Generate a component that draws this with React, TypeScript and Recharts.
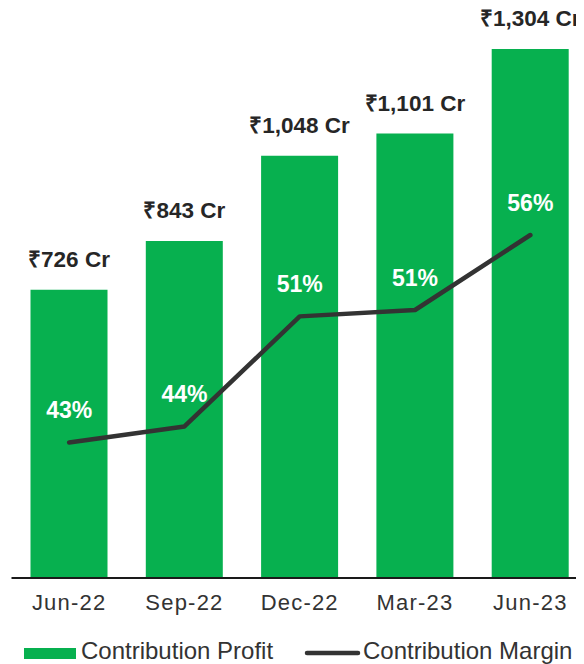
import React from 'react';
import { ComposedChart, Bar, Line, XAxis, YAxis, Legend, LabelList } from 'recharts';

const categories = ['Jun-22', 'Sep-22', 'Dec-22', 'Mar-23', 'Jun-23'];
const contributionProfit = [726, 843, 1048, 1101, 1304];
const contributionMargin = [43.0, 44.0, 50.9, 51.3, 56.0];

const data = categories.map((name, i) => ({
  name,
  profit: contributionProfit[i],
  margin: contributionMargin[i],
}));

const FONT = '"Liberation Sans", Arial, sans-serif';
const GREEN = '#07b04f';
const DARK = '#333333';

const fmtCr = (v: any) => {
  const s = String(v).replace(/\B(?=(\d{3})+(?!\d))/g, ',');
  return `₹${s} Cr`;
};

const PctLabel = (props: any) => {
  const { x, y, value } = props;
  return (
    <text
      x={x}
      y={y - 24}
      fill="#ffffff"
      fontSize={23}
      fontWeight="bold"
      fontFamily={FONT}
      textAnchor="middle"
    >
      {Math.round(Number(value))}%
    </text>
  );
};

const LegendContent = (props: any) => {
  const payload = props.payload || [];
  const barItem = payload.find((p: any) => p.dataKey === 'profit');
  const lineItem = payload.find((p: any) => p.dataKey === 'margin');
  return (
    <svg width={576} height={28} style={{ display: 'block' }}>
      <rect x={16} y={12} width={52} height={11} fill={barItem ? barItem.color : GREEN} />
      <text x={73} y={23} fontSize={24} fontFamily={FONT} fill={DARK}>
        {barItem ? barItem.value : 'Contribution Profit'}
      </text>
      <line
        x1={299}
        y1={17}
        x2={350}
        y2={17}
        stroke={lineItem ? lineItem.color : DARK}
        strokeWidth={4.5}
        strokeLinecap="round"
      />
      <text x={355} y={23} fontSize={24} fontFamily={FONT} fill={DARK}>
        {lineItem ? lineItem.value : 'Contribution Margin'}
      </text>
    </svg>
  );
};

export default function App() {
  return (
    <div style={{ marginTop: -8, width: 576, height: 664, overflow: 'hidden', position: 'relative' }}>
      <ComposedChart
        width={580}
        height={664}
        data={data}
        margin={{ top: 49, right: 0, bottom: 0, left: 3.5 }}
        barCategoryGap={0}
      >
        <XAxis
          dataKey="name"
          axisLine={{ stroke: '#1a1a1a', strokeWidth: 2 }}
          tickLine={false}
          tickSize={0}
          tickMargin={16.4}
          height={86}
          interval={0}
          tick={{ fill: DARK, fontSize: 22, fontFamily: FONT, letterSpacing: 1.2 } as any}
        />
        <YAxis yAxisId="left" hide domain={[34, 1304]} allowDataOverflow type="number" scale="linear" />
        <YAxis
          yAxisId="right"
          orientation="right"
          hide
          domain={[34.5, 67.66]}
          allowDataOverflow
          type="number"
          scale="linear"
        />
        <Legend
          layout="horizontal"
          verticalAlign="middle"
          align="center"
          wrapperStyle={{ position: 'absolute', top: 636, left: 0, width: 576, height: 28 }}
          content={<LegendContent />}
        />
        <Bar
          yAxisId="left"
          dataKey="profit"
          name="Contribution Profit"
          fill={GREEN}
          barSize={77}
          isAnimationActive={false}
        >
          <LabelList
            dataKey="profit"
            position="top"
            offset={23}
            formatter={fmtCr}
            fill="#262626"
            fontSize={22.5}
            fontWeight="bold"
            fontFamily={FONT}
          />
        </Bar>
        <Line
          yAxisId="right"
          dataKey="margin"
          name="Contribution Margin"
          type="linear"
          stroke={DARK}
          strokeWidth={4.5}
          strokeLinecap="round"
          strokeLinejoin="round"
          dot={false}
          activeDot={false}
          isAnimationActive={false}
        >
          <LabelList dataKey="margin" content={<PctLabel />} />
        </Line>
      </ComposedChart>
    </div>
  );
}
